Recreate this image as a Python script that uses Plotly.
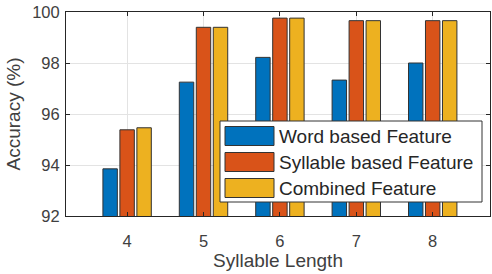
import plotly.graph_objects as go

categories = [4, 5, 6, 7, 8]
word_based = [93.85, 97.25, 98.22, 97.33, 98.0]
syllable_based = [95.38, 99.40, 99.76, 99.66, 99.66]
combined = [95.46, 99.40, 99.76, 99.66, 99.66]
series_names = ["Word based Feature", "Syllable based Feature", "Combined Feature"]
colors = ["#0072BD", "#D95319", "#EDB120"]
y_ticks = [92, 94, 96, 98, 100]

W, H = 492, 274
L, R, T, B = 66, 490, 12, 216  # plot area in px

fig = go.Figure()
for name, vals, col in zip(series_names, [word_based, syllable_based, combined], colors):
    fig.add_trace(go.Bar(x=categories, y=vals, name=name, marker_color=col,
                         marker_line_color="#333333", marker_line_width=1,
                         showlegend=False))

axis_col = "#262626"
fig.update_layout(
    width=W, height=H,
    margin=dict(l=L, r=W - R, t=T, b=H - B, autoexpand=False),
    paper_bgcolor="white", plot_bgcolor="white",
    barmode="group", bargap=0.333, bargroupgap=0.15,
    font=dict(family="Liberation Sans, Arial", size=16, color="#404040"),
    xaxis=dict(range=[3.2, 8.75], tickvals=categories, ticks="inside", ticklen=4,
               tickcolor=axis_col, showline=True, linecolor=axis_col, linewidth=1,
               mirror="ticks", showgrid=True, gridcolor="#e3e3e3", zeroline=False,
               automargin=False, ticklabelstandoff=10,
               title=dict(text="Syllable Length", standoff=0, font=dict(size=19, color="#404040")),
               tickfont=dict(size=16.5, color="#404040")),
    yaxis=dict(range=[92, 100], tickvals=y_ticks, ticks="inside", ticklen=4,
               tickcolor=axis_col, showline=True, linecolor=axis_col, linewidth=1,
               mirror="ticks", showgrid=True, gridcolor="#e3e3e3", zeroline=False,
               automargin=False, ticklabelstandoff=2,
               title=dict(text="Accuracy (%)", standoff=6, font=dict(size=19, color="#404040")),
               tickfont=dict(size=16.5, color="#404040")),
)

def px_x(p):
    return (p - L) / (R - L)

def px_y(p):
    return (B - p) / (B - T)

# custom legend (MATLAB style with large swatches)
fig.add_shape(type="rect", xref="paper", yref="paper",
              x0=px_x(220), x1=px_x(482), y0=px_y(202), y1=px_y(121),
              fillcolor="white", line=dict(color="#333333", width=1), layer="above")
sw_top = [126.5, 152.5, 178.5]
for i, (name, col) in enumerate(zip(series_names, colors)):
    fig.add_shape(type="rect", xref="paper", yref="paper",
                  x0=px_x(225), x1=px_x(274), y0=px_y(sw_top[i] + 19), y1=px_y(sw_top[i]),
                  fillcolor=col, line=dict(color="#333333", width=1), layer="above")
    fig.add_annotation(xref="paper", yref="paper", x=px_x(277), y=px_y(sw_top[i] + 9.5),
                       text=name, showarrow=False, xanchor="left", yanchor="middle",
                       font=dict(size=19, color="#262626"))

fig.write_html("out.html", config={"displayModeBar": False},
               post_script="document.body.style.margin='0';")
